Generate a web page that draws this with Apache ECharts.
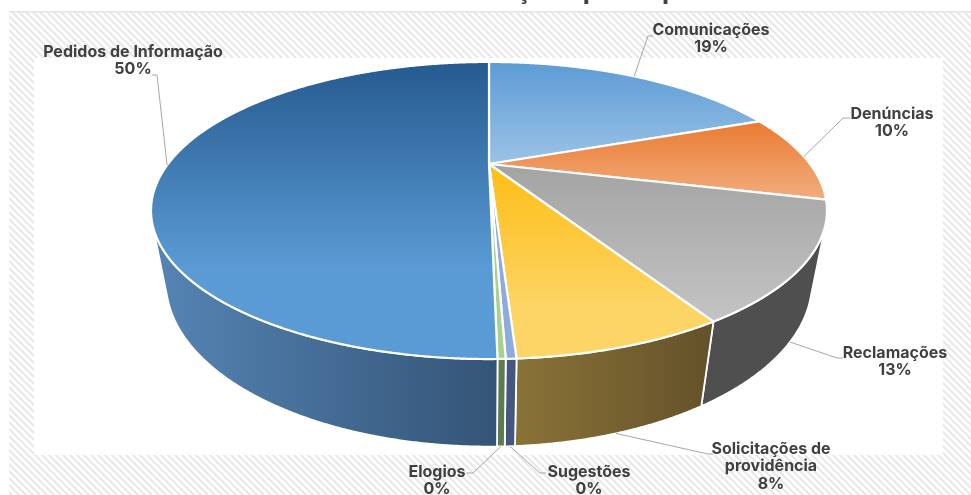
<!DOCTYPE html>
<html><head><meta charset="utf-8">
<style>html,body{margin:0;padding:0;background:#fff}#c{width:971px;height:495px}</style>
<script src="https://cdn.jsdelivr.net/npm/echarts@6/dist/echarts.min.js"></script>
</head><body><div id="c"></div>
<script>
const categories = ['Comunicações','Denúncias','Reclamações','Solicitações de\nprovidência','Sugestões','Elogios','Pedidos de Informação'];
const values = [19.25, 9.7, 12.51, 7.6, 0.37, 0.28, 50.29];

const topColors = [['#5b9bd5','#9dc3e6'],['#ea7a30','#f2ae80'],['#a3a3a3','#c4c4c4'],['#fdbd14','#fdd566'],['#8faadc','#8faadc'],['#a9d18e','#a9d18e'],['#255a8f','#5b9bd5']];
const topStops = [1,1,1,0.75,1,1,0.7];
const wallColors = [['#4a7fb0','#4a7fb0'],['#b45f25','#b45f25'],['#4f4f4f','#4f4f4f'],['#8a7337','#63512a'],['#44577f','#44577f'],['#5f7a4f','#5f7a4f'],['#5585b5','#345476']];
// [text centre x, first-line y, leader elbow x, elbow y, leader end x, from bottom rim?]
const labelLayout = [
  [711,30,648,36,653,0],[892,114,843,118,850,0],[895,353,837,358,843,1],[771,449,708,454,713,1],
  [589,472,540,473,546,1],[437,472,473,473,467,1],[133,52,157,75,152,0]
];
const P = {cx:489, cy:164, k:0.313, A:321, B:134, m:0.042, D:72};
function project(deg, z){
  const a = deg*Math.PI/180, x = Math.sin(a), y = -Math.cos(a), w = 1 - P.k*y + P.m*z;
  return [P.cx + P.A*x/w, P.cy + (P.B*y + P.D*z)/w];
}
const total = values.reduce((s,v)=>s+v,0);
function span(i){
  let s = 0; for(let j=0;j<i;j++) s += values[j];
  return [s/total*360, (s+values[i])/total*360];
}
function samples(a0,a1){ const n=Math.max(2,Math.ceil((a1-a0)/0.25)); const r=[]; for(let i=0;i<=n;i++) r.push(a0+(a1-a0)*i/n); return r; }
function frontFacing(a){
  const p=project(a-0.05,0), q=project(a+0.05,0), b=project(a,1), t=project(a,0);
  return (q[0]-p[0])*(b[1]-t[1])-(q[1]-p[1])*(b[0]-t[0]) < 0;
}
function grad(c,horizontal,stop){
  return new echarts.graphic.LinearGradient(0,0,horizontal?1:0,horizontal?0:1,[{offset:0,color:c[0]},{offset:stop,color:c[1]},{offset:1,color:c[1]}]);
}
function renderWall(params){
  const [a0,a1]=span(params.dataIndex);
  const vis=samples(a0,a1).filter(frontFacing);
  if(vis.length<2) return {type:'group',children:[]};
  const pts=vis.map(a=>project(a,0)).concat(vis.slice().reverse().map(a=>project(a,1)));
  return {type:'polygon',shape:{points:pts},style:{fill:grad(wallColors[params.dataIndex],true,1),stroke:'#fff',lineWidth:1.8,lineJoin:'round'}};
}
function renderTop(params){
  const i=params.dataIndex,[a0,a1]=span(i);
  const pts=[[P.cx,P.cy]].concat(samples(a0,a1).map(a=>project(a,0)));
  return {type:'polygon',shape:{points:pts},style:{fill:grad(topColors[i],false,topStops[i]),stroke:'#fff',lineWidth:2.2,lineJoin:'round'}};
}
function renderLabel(params,api){
  const i=params.dataIndex,[a0,a1]=span(i),L=labelLayout[i];
  const start=project((a0+a1)/2,L[5]);
  const pct=Math.round(api.value(0)/total*100)+'%';
  return {type:'group',children:[
    {type:'polyline',shape:{points:[start,[L[2],L[3]],[L[4],L[3]]]},style:{fill:null,stroke:'#a6a6a6',lineWidth:1}},
    {type:'text',x:L[0],y:L[1]-9,style:{text:categories[i]+'\n'+pct,align:'center',verticalAlign:'top',fill:'#404040',font:'700 16px Inter',lineHeight:17.5}}
  ]};
}
const hatch=document.createElement('canvas'); hatch.width=7; hatch.height=7;
(function(){const g=hatch.getContext('2d');g.fillStyle='#fff';g.fillRect(0,0,7,7);g.strokeStyle='#e7e7e7';g.lineWidth=2;
 for(let o=-7;o<=7;o+=7){g.beginPath();g.moveTo(o-1,-1);g.lineTo(o+8,8);g.stroke();}})();

const chart=echarts.init(document.getElementById('c'),null,{renderer:'canvas'});
const seriesData=values.map(v=>[v]);
chart.setOption({
  animation:false,
  backgroundColor:'#fff',
  title:{text:'Manifestações por espécie',left:555,top:-27,textAlign:'center',textStyle:{fontFamily:'Inter',fontWeight:700,fontSize:26,color:'#404040'}},
  graphic:{elements:[
    {type:'rect',z:-3,silent:true,shape:{x:9,y:11,width:962,height:484},style:{fill:{image:hatch,repeat:'repeat'}}},
    {type:'rect',z:-2,silent:true,shape:{x:9,y:11,width:962,height:1.5},style:{fill:'#e4e4e4'}},
    {type:'rect',z:-1,silent:true,shape:{x:34,y:58,width:909,height:397},style:{fill:'#fff'}}
  ]},
  series:[
    {type:'custom',coordinateSystem:'none',z:2,silent:true,data:seriesData,renderItem:renderWall},
    {type:'custom',coordinateSystem:'none',z:3,silent:true,data:seriesData,renderItem:renderTop},
    {type:'custom',coordinateSystem:'none',z:4,silent:true,data:seriesData,renderItem:renderLabel}
  ]
});
</script></body></html>
